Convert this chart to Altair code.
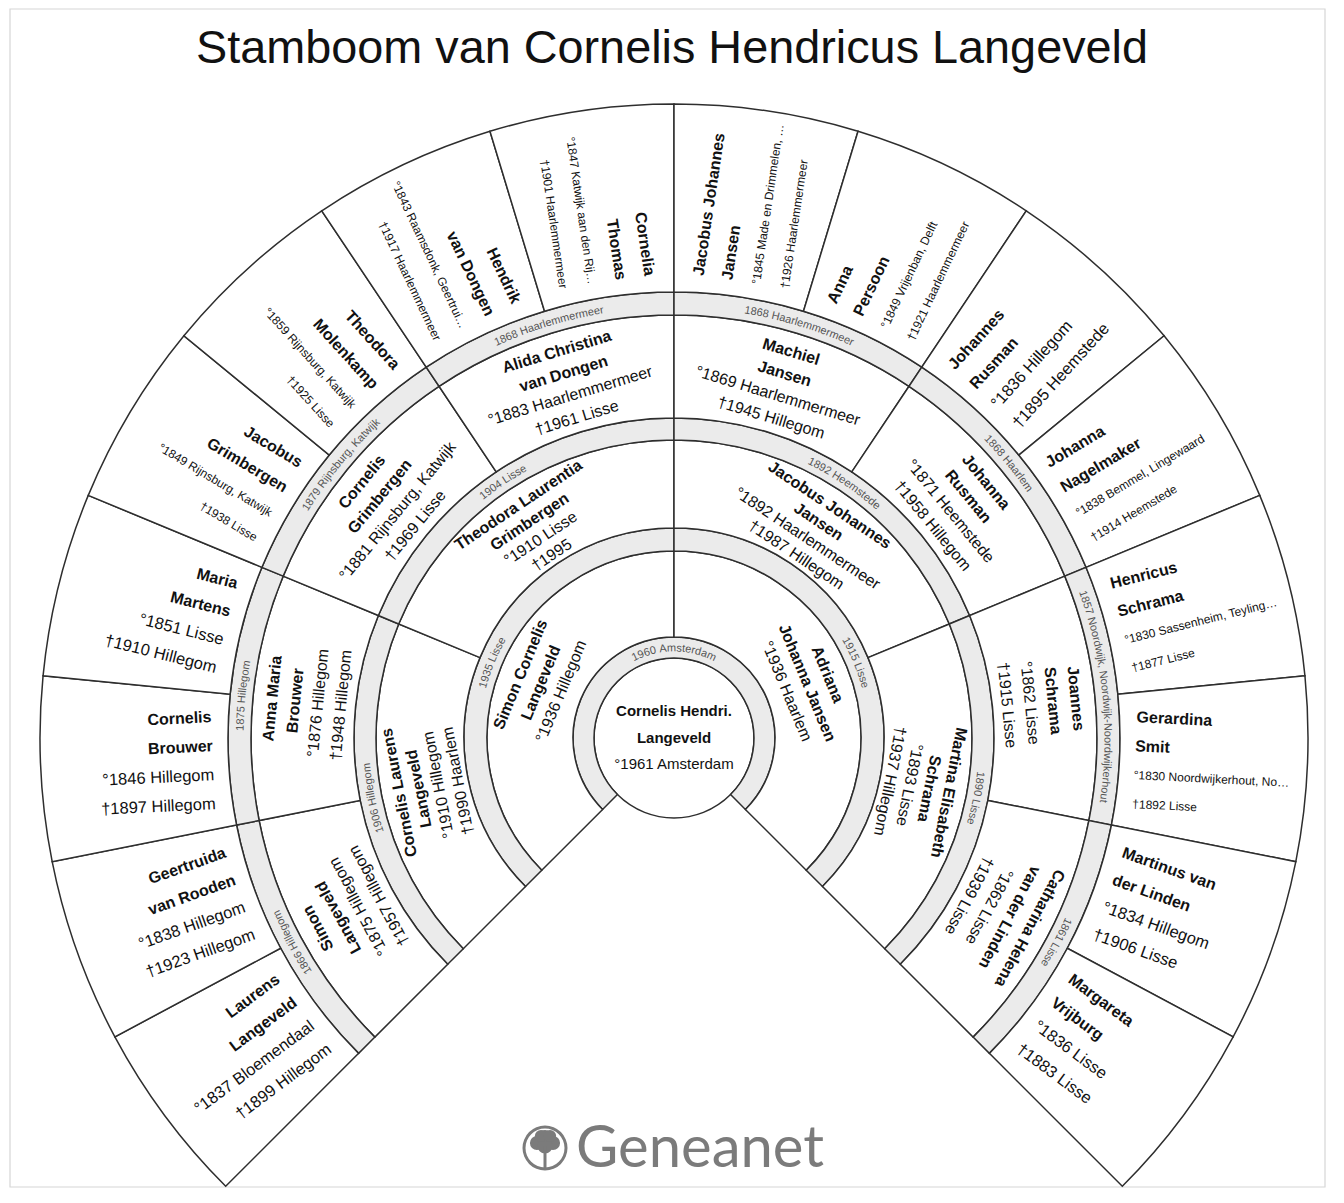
import math
import altair as alt
import pandas as pd

# ------------------------------------------------------------------ data
TITLE = "Stamboom van Cornelis Hendricus Langeveld"
BRAND = "Geneanet"

ROOT_NAMES = [["Cornelis Hendri.", "Langeveld"]]
ROOT_DETAILS = [["°1961 Amsterdam"]]

GEN1_NAMES = [["Simon Cornelis", "Langeveld"], ["Adriana", "Johanna Jansen"]]
GEN1_DETAILS = [["°1936 Hillegom"], ["°1936 Haarlem"]]

GEN2_NAMES = [["Cornelis Laurens", "Langeveld"], ["Theodora Laurentia", "Grimbergen"],
              ["Jacobus Johannes", "Jansen"], ["Martina Elisabeth", "Schrama"]]
GEN2_DETAILS = [["°1910 Hillegom", "†1990 Haarlem"], ["°1910 Lisse", "†1995"],
                ["°1892 Haarlemmermeer", "†1987 Hillegom"], ["°1893 Lisse", "†1937 Hillegom"]]

GEN3_NAMES = [["Simon", "Langeveld"], ["Anna Maria", "Brouwer"], ["Cornelis", "Grimbergen"],
              ["Alida Christina", "van Dongen"], ["Machiel", "Jansen"], ["Johanna", "Rusman"],
              ["Joannes", "Schrama"], ["Catharina Helena", "van der Linden"]]
GEN3_DETAILS = [["°1875 Hillegom", "†1957 Hillegom"], ["°1876 Hillegom", "†1948 Hillegom"],
                ["°1881 Rijnsburg, Katwijk", "†1969 Lisse"], ["°1883 Haarlemmermeer", "†1961 Lisse"],
                ["°1869 Haarlemmermeer", "†1945 Hillegom"], ["°1871 Heemstede", "†1958 Hillegom"],
                ["°1862 Lisse", "†1915 Lisse"], ["°1862 Lisse", "†1939 Lisse"]]

GEN4_NAMES = [["Laurens", "Langeveld"], ["Geertruida", "van Rooden"], ["Cornelis", "Brouwer"],
              ["Maria", "Martens"], ["Jacobus", "Grimbergen"], ["Theodora", "Molenkamp"],
              ["Hendrik", "van Dongen"], ["Cornelia", "Thomas"], ["Jacobus Johannes", "Jansen"],
              ["Anna", "Persoon"], ["Johannes", "Rusman"], ["Johanna", "Nagelmaker"],
              ["Henricus", "Schrama"], ["Gerardina", "Smit"], ["Martinus van", "der Linden"],
              ["Margareta", "Vrijburg"]]
GEN4_DETAILS = [["°1837 Bloemendaal", "†1899 Hillegom"], ["°1838 Hillegom", "†1923 Hillegom"],
                ["°1846 Hillegom", "†1897 Hillegom"], ["°1851 Lisse", "†1910 Hillegom"],
                ["°1849 Rijnsburg, Katwijk", "†1938 Lisse"], ["°1859 Rijnsburg, Katwijk", "†1925 Lisse"],
                ["°1843 Raamsdonk, Geertrui…", "†1917 Haarlemmermeer"],
                ["°1847 Katwijk aan den Rij…", "†1901 Haarlemmermeer"],
                ["°1845 Made en Drimmelen, …", "†1926 Haarlemmermeer"],
                ["°1849 Vrijenban, Delft", "†1921 Haarlemmermeer"],
                ["°1836 Hillegom", "†1895 Heemstede"], ["°1838 Bemmel, Lingewaard", "†1914 Heemstede"],
                ["°1830 Sassenheim, Teyling…", "†1877 Lisse"], ["°1830 Noordwijkerhout, No…", "†1892 Lisse"],
                ["°1834 Hillegom", "†1906 Lisse"], ["°1836 Lisse", "†1883 Lisse"]]

MARR0 = ["1960 Amsterdam"]
MARR1 = ["1935 Lisse", "1915 Lisse"]
MARR2 = ["1906 Hillegom", "1904 Lisse", "1892 Heemstede", "1890 Lisse"]
MARR3 = ["1866 Hillegom", "1875 Hillegom", "1879 Rijnsburg, Katwijk", "1868 Haarlemmermeer",
         "1868 Haarlemmermeer", "1868 Haarlem", "1857 Noordwijk, Noordwijk-Noordwijkerhout", "1861 Lisse"]

# ------------------------------------------------------------------ layout
CX, CY = 674, 738            # page position of the fan centre
W, H = 1320, 1180            # plot size (page offset 8)
START, SPAN = -135.0, 270.0
R_CENTER = 80
BANDS = [(80, 101), (187, 210), (298, 320), (423, 446)]
RINGS = [(101, 187), (210, 298), (320, 423), (446, 634)]
LINE = "#2e2e2e"
BAND_FILL = "#ebebeb"
INK = "#111111"
BAND_INK = "#555555"
FONT = "Liberation Sans"

XS = alt.Scale(domain=[8 - CX, 8 + W - CX], nice=False, zero=False)
YS = alt.Scale(domain=[8 - CY, 8 + H - CY], nice=False, zero=False, reverse=True)

# Arial / Liberation Sans advance widths (1/1000 em)
AW = {c: 556 for c in "0123456789"}
AW.update({' ': 278, ',': 278, '-': 333, '.': 278, '°': 400, '†': 556, '…': 1000})
AW.update(dict(zip("abcdefghijklmnopqrstuvwxyz",
                   [556, 556, 500, 556, 556, 278, 556, 556, 222, 222, 500, 222, 833, 556, 556, 556,
                    556, 333, 500, 278, 556, 500, 722, 500, 500, 500])))
AW.update(dict(zip("ABCDEFGHIJKLMNOPQRSTUVWXYZ",
                   [667, 667, 722, 722, 667, 611, 778, 722, 278, 500, 667, 556, 833, 722, 778, 667,
                    778, 722, 667, 611, 722, 667, 944, 667, 667, 611])))


def tw(s, fs):
    return sum(AW.get(c, 556) for c in s) * fs / 1000.0


def polar(r, th_deg):
    t = math.radians(th_deg)
    return r * math.sin(t), -r * math.cos(t)


# ------------------------------------------------------------------ arcs
arc_rows = [dict(cx=0, cy=0, t0=0.0, t1=2 * math.pi, ri=0, ro=R_CENTER, fill="white")]
for g in range(4):
    nb = 2 ** g
    stp = SPAN / nb
    for k in range(nb):
        a0 = START + k * stp
        arc_rows.append(dict(cx=0, cy=0, t0=math.radians(a0), t1=math.radians(a0 + stp),
                             ri=BANDS[g][0], ro=BANDS[g][1], fill=BAND_FILL))
    n = 2 ** (g + 1)
    stp = SPAN / n
    for k in range(n):
        a0 = START + k * stp
        arc_rows.append(dict(cx=0, cy=0, t0=math.radians(a0), t1=math.radians(a0 + stp),
                             ri=RINGS[g][0], ro=RINGS[g][1], fill="white"))
arc_df = pd.DataFrame(arc_rows)

# ------------------------------------------------------------------ texts
rows = []
c_lines = [(t, "bold") for t in ROOT_NAMES[0]] + [(t, "reg") for t in ROOT_DETAILS[0]]
for i, (t, w) in enumerate(c_lines):
    rows.append(dict(x=0, y=-27 + i * 26.5, t=t, a=0, fs=15, col=INK, grp="c_" + w))

TANG = [(GEN1_NAMES, GEN1_DETAILS, 144, 22, 16),
        (GEN2_NAMES, GEN2_DETAILS, 250, 20, 16),
        (GEN3_NAMES, GEN3_DETAILS, 369, 23, 16)]
for g, (names, details, rc, sp, fs) in enumerate(TANG, start=1):
    n = 2 ** g
    stp = SPAN / n
    for k in range(n):
        th = START + (k + 0.5) * stp
        lines = [(t, "bold") for t in names[k]] + [(t, "reg") for t in details[k]]
        m = len(lines)
        for i, (t, w) in enumerate(lines):
            r = rc + ((m - 1) / 2 - i) * sp
            x, y = polar(r, th)
            rows.append(dict(x=x, y=y, t=t, a=th, fs=fs, col=INK, grp="c_" + w))

R_ANCHOR, SP4 = 461, 29
stp = SPAN / 16
for k in range(16):
    th = START + (k + 0.5) * stp
    left = th < 0
    ang = th + 90 if left else th - 90
    ux, uy = math.sin(math.radians(ang)), -math.cos(math.radians(ang))
    px, py = polar(R_ANCHOR, th)
    dfs = 16.5 if max(tw(d, 16.5) for d in GEN4_DETAILS[k]) <= 150 else 12
    lines = [(t, "bold", 16) for t in GEN4_NAMES[k]] + [(t, "reg", dfs) for t in GEN4_DETAILS[k]]
    m = len(lines)
    for i, (t, w, fs) in enumerate(lines):
        off = ((m - 1) / 2 - i) * SP4
        rows.append(dict(x=px + ux * off, y=py + uy * off, t=t, a=ang, fs=fs, col=INK,
                         grp=("r_" if left else "l_") + w))
text_df = pd.DataFrame(rows)

band_rows = []


def curved(text, th_c, r_mid, fs):
    rb = r_mid - 0.36 * fs
    total = tw(text, fs)
    phi0 = math.radians(th_c) - total / 2 / rb
    cum = 0.0
    for c in text:
        w = AW.get(c, 556) * fs / 1000.0
        phi = phi0 + (cum + w / 2) / rb
        cum += w
        if c == " ":
            continue
        band_rows.append(dict(x=rb * math.sin(phi), y=-rb * math.cos(phi), t=c,
                              a=math.degrees(phi), fs=fs, col=BAND_INK))


for g, marr in enumerate([MARR0, MARR1, MARR2, MARR3]):
    nb = 2 ** g
    stp = SPAN / nb
    mid = (BANDS[g][0] + BANDS[g][1]) / 2
    for k, label in enumerate(marr):
        curved(label, START + (k + 0.5) * stp, mid, 11)
band_df = pd.DataFrame(band_rows)

# ------------------------------------------------------------------ chart
X = alt.X("x:Q", scale=XS, axis=None)
Y = alt.Y("y:Q", scale=YS, axis=None)


def text_layer(df, weight, align, baseline="middle", font=FONT):
    return alt.Chart(df).mark_text(font=font, fontWeight=weight, align=align, baseline=baseline).encode(
        x=X, y=Y, text="t:N",
        angle=alt.Angle("a:Q", scale=None),
        size=alt.Size("fs:Q", scale=None, legend=None),
        color=alt.Color("col:N", scale=None, legend=None),
    )


frame_df = pd.DataFrame([dict(x=10 - CX, x2=1325 - CX, y=9 - CY, y2=1187 - CY)])
frame = alt.Chart(frame_df).mark_rect(fillOpacity=0, stroke="#d6d6d6", strokeWidth=1.2).encode(
    x=X, x2="x2:Q", y=Y, y2="y2:Q")

arcs = alt.Chart(arc_df).mark_arc(stroke=LINE, strokeWidth=1.5).encode(
    x=alt.X("cx:Q", scale=XS, axis=None),
    y=alt.Y("cy:Q", scale=YS, axis=None),
    theta=alt.Theta("t0:Q", scale=None, stack=False),
    theta2="t1:Q",
    radius=alt.Radius("ro:Q", scale=None),
    radius2="ri:Q",
    fill=alt.Fill("fill:N", scale=None, legend=None),
)

layers = [frame, arcs]
for grp, weight, align in [("c_bold", "bold", "center"), ("c_reg", "normal", "center"),
                           ("l_bold", "bold", "left"), ("l_reg", "normal", "left"),
                           ("r_bold", "bold", "right"), ("r_reg", "normal", "right")]:
    layers.append(text_layer(text_df[text_df.grp == grp], weight, align))
layers.append(text_layer(band_df, "normal", "center", baseline="alphabetic"))

title_df = pd.DataFrame([dict(x=672 - CX, y=63 - CY, t=TITLE, a=0, fs=46.8, col=INK)])
layers.append(text_layer(title_df, "normal", "center", baseline="alphabetic"))

LOGO_X, LOGO_Y = 545, 1148
GRAY = "#7b7b7b"
ring_df = pd.DataFrame([dict(cx=LOGO_X - CX, cy=LOGO_Y - CY, t0=0.0, t1=2 * math.pi, ri=19.5, ro=22.5)])
logo_ring = alt.Chart(ring_df).mark_arc(color=GRAY).encode(
    x=alt.X("cx:Q", scale=XS, axis=None), y=alt.Y("cy:Q", scale=YS, axis=None),
    theta=alt.Theta("t0:Q", scale=None, stack=False), theta2="t1:Q",
    radius=alt.Radius("ro:Q", scale=None), radius2="ri:Q")
blob_df = pd.DataFrame([dict(x=LOGO_X - CX + dx, y=LOGO_Y - CY + dy, s=s) for dx, dy, s in
                        [(-8, -5, 200), (8, -5, 200), (0, -10, 260), (0, -2, 230), (-4, -12, 150), (5, -12, 150)]])
blobs = alt.Chart(blob_df).mark_point(shape="circle", filled=True, opacity=1, color=GRAY).encode(
    x=X, y=Y, size=alt.Size("s:Q", scale=None, legend=None))
trunk_df = pd.DataFrame([dict(x=LOGO_X - CX - 1.5, x2=LOGO_X - CX + 1.5, y=LOGO_Y - CY - 2, y2=LOGO_Y - CY + 20)])
trunk = alt.Chart(trunk_df).mark_rect(color=GRAY).encode(x=X, x2="x2:Q", y=Y, y2="y2:Q")
brand_df = pd.DataFrame([dict(x=576 - CX, y=1167 - CY, t=BRAND, a=0, fs=58, col=GRAY)])
layers += [logo_ring, blobs, trunk, text_layer(brand_df, "normal", "left", baseline="alphabetic", font="Lato")]

chart = alt.layer(*layers).properties(
    width=W, height=H, padding=0, autosize="none"
).configure_view(stroke=None)

chart.save("out.html", embed_options={"renderer": "svg", "actions": False})
